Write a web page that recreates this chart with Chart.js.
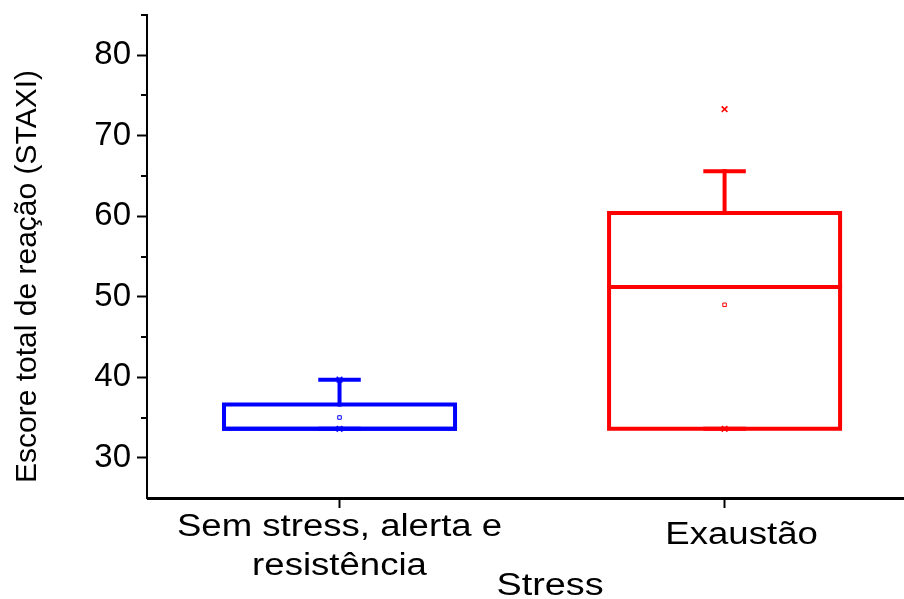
<!DOCTYPE html>
<html>
<head>
<meta charset="utf-8">
<script src="https://cdn.jsdelivr.net/npm/chart.js@4.4.1/dist/chart.umd.min.js"></script>
<style>
html, body { margin: 0; padding: 0; background: #fff; }
</style>
</head>
<body>
<canvas id="boxChart" width="904" height="599"></canvas>
<script>
// data
var categories = [['Sem stress, alerta e', 'resistência'], ['Exaustão']];
var groupColors = ['#0000ff', '#ff0000'];
var q1Values = [33.6, 33.6];
var medianValues = [33.6, 51.2];
var q3Values = [36.6, 60.4];
var whiskerLow = [33.6, 33.6];
var whiskerHigh = [39.7, 65.6];
var meanValues = [35.0, 49.0];
var minValues = [33.6, 33.6];
var maxValues = [39.7, 73.3];
var yTickValues = [30, 40, 50, 60, 70, 80];
var yMinorValues = [35, 45, 55, 65, 75, 85];

var xTitle = 'Stress';
var yTitle = 'Escore total de reação (STAXI)';

var boxHalf = 0.3;
var capHalf = 0.05;
var fontFamily = '"Liberation Sans", Arial, sans-serif';

function seg(color, width, pts) {
    return {
        type: 'line',
        data: pts,
        borderColor: color,
        borderWidth: width,
        pointRadius: 0,
        showLine: true,
        fill: false,
        borderCapStyle: 'square',
        borderJoinStyle: 'miter',
        order: 2
    };
}

function noPadding(s) {
    s.paddingTop = 0;
    s.paddingBottom = 0;
    s.paddingLeft = 0;
    s.paddingRight = 0;
}

var datasets = [];
categories.forEach(function (cat, i) {
    var c = groupColors[i];
    // markers on top
    datasets.push({
        type: 'scatter',
        data: [{ x: i, y: meanValues[i] }],
        pointStyle: 'rect',
        pointRadius: 2.5,
        borderColor: c,
        borderWidth: 1,
        backgroundColor: '#fff',
        order: 1
    });
    datasets.push({
        type: 'scatter',
        data: [{ x: i, y: minValues[i] }, { x: i, y: maxValues[i] }],
        pointStyle: 'crossRot',
        pointRadius: 4,
        borderColor: c,
        borderWidth: 1.5,
        order: 1
    });
    // box
    datasets.push(seg(c, 4, [
        { x: i - boxHalf, y: q1Values[i] },
        { x: i + boxHalf, y: q1Values[i] },
        { x: i + boxHalf, y: q3Values[i] },
        { x: i - boxHalf, y: q3Values[i] },
        { x: i - boxHalf, y: q1Values[i] }
    ]));
    datasets.push(seg(c, 4, [
        { x: i - boxHalf, y: medianValues[i] },
        { x: i + boxHalf, y: medianValues[i] }
    ]));
    // whiskers
    datasets.push(seg(c, 4, [{ x: i, y: q3Values[i] }, { x: i, y: whiskerHigh[i] }]));
    datasets.push(seg(c, 4, [{ x: i - capHalf, y: whiskerHigh[i] }, { x: i + capHalf, y: whiskerHigh[i] }]));
    datasets.push(seg(c, 4, [{ x: i, y: whiskerLow[i] }, { x: i, y: q1Values[i] }]));
    datasets.push(seg(c, 4, [{ x: i - capHalf, y: whiskerLow[i] }, { x: i + capHalf, y: whiskerLow[i] }]));
});

// x labels are a bit wider than the font, so they are drawn here stretched
var labelShift = [0, 17];

var extras = {
    id: 'extras',
    afterDraw: function (chart) {
        var ctx = chart.ctx;
        var x = chart.scales.x;
        var y = chart.scales.y;
        var area = chart.chartArea;
        ctx.save();
        ctx.strokeStyle = '#000';
        ctx.lineWidth = 2;
        // axis line runs off the right edge in the original
        ctx.beginPath();
        ctx.moveTo(area.left, Math.round(area.bottom) + 1);
        ctx.lineTo(chart.width, Math.round(area.bottom) + 1);
        ctx.stroke();
        yMinorValues.forEach(function (v) {
            var py = Math.round(y.getPixelForValue(v));
            ctx.beginPath();
            ctx.moveTo(area.left - 6, py);
            ctx.lineTo(area.left, py);
            ctx.stroke();
        });
        ctx.fillStyle = '#000';
        ctx.textAlign = 'center';
        ctx.textBaseline = 'middle';
        ctx.font = '31px ' + fontFamily;
        categories.forEach(function (lines, i) {
            var px = x.getPixelForValue(i) + labelShift[i];
            var top = area.bottom + 37 - (lines.length - 1) * 8;
            lines.forEach(function (txt, k) {
                ctx.save();
                ctx.translate(px, top + k * 39);
                ctx.scale(1.18, 1);
                ctx.fillText(txt, 0, 0);
                ctx.restore();
            });
        });
        ctx.save();
        ctx.translate(550, 586);
        ctx.scale(1.22, 1);
        ctx.fillText(xTitle, 0, 0);
        ctx.restore();
        ctx.font = '30px ' + fontFamily;
        ctx.save();
        ctx.translate(28, (area.top + area.bottom) / 2 + 20);
        ctx.rotate(-Math.PI / 2);
        ctx.fillText(yTitle, 0, 0);
        ctx.restore();
        ctx.restore();
    }
};

new Chart(document.getElementById('boxChart'), {
    type: 'scatter',
    data: { datasets: datasets },
    plugins: [extras],
    options: {
        responsive: false,
        animation: false,
        layout: { autoPadding: false, padding: { top: 15, right: 0, left: 0, bottom: 0 } },
        plugins: { legend: { display: false }, tooltip: { enabled: false } },
        scales: {
            x: {
                type: 'linear',
                min: -0.5,
                max: 1.466,
                afterBuildTicks: function (s) {
                    s.ticks = categories.map(function (c, i) { return { value: i }; });
                },
                afterFit: function (s) { s.height = 101; noPadding(s); },
                ticks: { display: false },
                grid: { drawOnChartArea: false, tickLength: 10, tickWidth: 2, tickColor: '#000' },
                border: { display: true, color: '#000', width: 2 }
            },
            y: {
                min: 25,
                max: 85,
                afterBuildTicks: function (s) {
                    s.ticks = yTickValues.map(function (v) { return { value: v }; });
                },
                afterFit: function (s) { s.width = 147; noPadding(s); },
                ticks: {
                    color: '#000',
                    font: { family: fontFamily, size: 33 },
                    padding: 6
                },
                grid: { drawOnChartArea: false, tickLength: 10, tickWidth: 2, tickColor: '#000' },
                border: { display: true, color: '#000', width: 2 }
            }
        }
    }
});
</script>
</body>
</html>
